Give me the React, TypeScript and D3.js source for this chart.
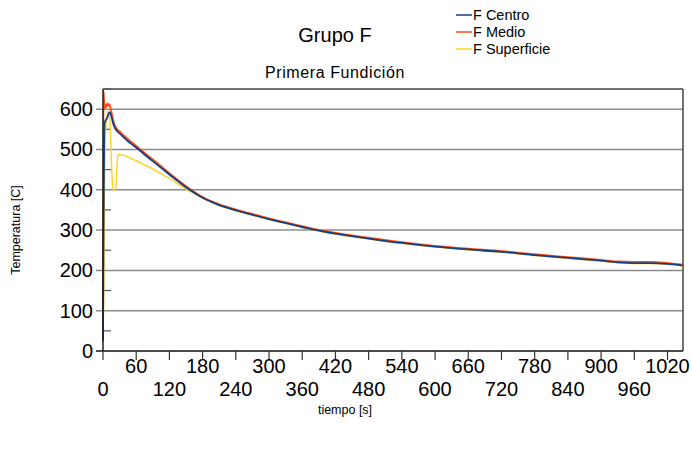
import React from "react";
import * as d3 from "d3";

// tiempo [s]
const times = [0, 1, 2, 3, 4, 6, 8, 10, 12, 14, 16, 18, 20, 22, 24, 26, 28, 30, 35, 40, 50, 60, 80, 100, 120, 150, 180, 210, 240, 270, 300, 340, 380, 420, 480, 540, 600, 660, 720, 780, 840, 900, 930, 960, 990, 1020, 1048];

const centro = [25, 300, 520, 565, 570, 575, 580, 588, 592, 588, 578, 566, 558, 552, 548, 545, 542, 540, 533, 527, 515, 505, 482, 460, 438, 406, 380, 362, 349, 338, 327, 314, 301, 291, 279, 268, 259, 252, 246, 238, 231, 224, 220, 218, 218, 216, 212];
const medio = [30, 645, 620, 600, 612, 605, 615, 608, 612, 600, 588, 575, 565, 558, 553, 550, 547, 545, 538, 532, 520, 509, 486, 464, 441, 409, 382, 364, 351, 340, 329, 316, 303, 293, 281, 270, 261, 254, 248, 240, 233, 226, 222, 221, 221, 218, 214];
const superficie = [20, 120, 300, 450, 520, 570, 590, 595, 580, 520, 440, 405, 398, 400, 420, 475, 488, 487, 486, 484, 478, 472, 458, 444, 428, 402, 379, 361, 348, 337, 326, 313, 300, 290, 278, 267, 258, 251, 245, 237, 230, 223, 219, 217, 217, 215, 211];

const seriesNames = ["F Centro", "F Medio", "F Superficie"];
const seriesColors = ["#123f86", "#ff4a12", "#ffd21f"];
const seriesValues = [centro, medio, superficie];

const xTicks = d3.range(0, 1021, 60);
const yTicks = d3.range(0, 601, 100);
const yMinor = d3.range(50, 651, 100);

const W = 692;
const H = 449;
const font = "Arial, 'Liberation Sans', sans-serif";

export default function App() {
  const x = d3.scaleLinear().domain([0, 1048]).range([103, 683]);
  const y = d3.scaleLinear().domain([0, 650]).range([351, 89]);

  const line = d3
    .line<number>()
    .x((_, i) => x(times[i]))
    .y((d) => y(d))
    .curve(d3.curveMonotoneX);

  // draw order: yellow first, then red, then blue on top
  const order = [2, 1, 0];

  return (
    <svg width={W} height={H} style={{ position: "absolute", left: 0, top: 0, background: "#fff" }} fontFamily={font}>
      {/* gridlines */}
      {yTicks.slice(1).map((t) => (
        <line key={t} x1={96} x2={683} y1={y(t)} y2={y(t)} stroke="#8c8c8c" strokeWidth={1.5} />
      ))}
      <line x1={103} x2={683} y1={y(650)} y2={y(650)} stroke="#444" strokeWidth={1.5} />
      <line x1={683} x2={683} y1={y(650)} y2={y(0)} stroke="#444" strokeWidth={1.5} />

      {/* minor y ticks */}
      {yMinor.map((t) => (
        <line key={t} x1={103} x2={111} y1={y(t)} y2={y(t)} stroke="#555" strokeWidth={1.2} />
      ))}

      {/* series */}
      {order.map((k) => (
        <path
          key={k}
          d={line(seriesValues[k]) || ""}
          fill="none"
          stroke={seriesColors[k]}
          strokeWidth={k === 2 ? 1.4 : 1.8}
          strokeLinejoin="round"
        />
      ))}

      {/* axes */}
      <line x1={103} x2={103} y1={y(650)} y2={y(0)} stroke="#222" strokeWidth={1.5} />
      <line x1={96} x2={683} y1={y(0)} y2={y(0)} stroke="#111" strokeWidth={1.5} />
      {xTicks.map((t) => (
        <line key={t} x1={x(t)} x2={x(t)} y1={y(0)} y2={y(0) + 9} stroke="#333" strokeWidth={1.2} />
      ))}

      {/* y labels */}
      {yTicks.map((t) => (
        <text key={t} x={93} y={y(t)} dy="0.35em" textAnchor="end" fontSize={20} fill="#000">
          {t}
        </text>
      ))}

      {/* x labels in two rows */}
      {xTicks.map((t, i) => (
        <text
          key={t}
          x={x(t)}
          y={i % 2 === 1 ? 366 : 389}
          dy="0.35em"
          textAnchor="middle"
          fontSize={20}
          fill="#000"
        >
          {t}
        </text>
      ))}

      <text x={345} y={410} dy="0.35em" textAnchor="middle" fontSize={12.5}>
        tiempo [s]
      </text>
      <text transform={`translate(16,230) rotate(-90)`} dy="0.35em" textAnchor="middle" fontSize={12.5}>
        Temperatura [C]
      </text>

      {/* titles */}
      <text x={335} y={35} dy="0.35em" textAnchor="middle" fontSize={20}>
        Grupo F
      </text>
      <text x={335} y={72} dy="0.35em" textAnchor="middle" fontSize={16} letterSpacing={0.6}>
        Primera Fundición
      </text>

      {/* legend */}
      {seriesNames.map((n, i) => (
        <g key={n} transform={`translate(456,${15 + i * 17})`}>
          <line x1={0} x2={16} y1={0} y2={0} stroke={seriesColors[i]} strokeWidth={1.5} />
          <text x={17} y={0} dy="0.35em" fontSize={14.5}>
            {n}
          </text>
        </g>
      ))}
    </svg>
  );
}
